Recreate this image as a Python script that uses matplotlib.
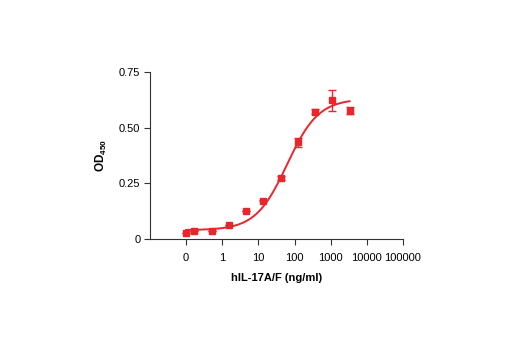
'''
Dose-response curve for hIL-17A/F (OD450 vs concentration).
'''

# Imports

import numpy as np
import matplotlib
matplotlib.use("Agg")
import matplotlib.pyplot as plt

# Constants

# concentration in ng/ml; the blank ("0") is drawn at 0.1
conc = [0.1, 0.17, 0.51, 1.52, 4.57, 13.7, 41.2, 123, 370, 1111, 3333]
od450 = [0.028, 0.035, 0.037, 0.063, 0.126, 0.172, 0.275, 0.434, 0.572, 0.624, 0.576]
od_err = [0.0, 0.0, 0.0, 0.0, 0.0, 0.002, 0.010, 0.022, 0.011, 0.047, 0.015]

# 4PL fit parameters
fit_bottom = 0.04
fit_top = 0.63
fit_ec50 = 62.0
fit_hill = 1.0

tick_pos = [0.1, 1, 10, 100, 1000, 10000, 100000]
tick_labels = ["0", "1", "10", "100", "1000", "10000", "100000"]
y_ticks = [0, 0.25, 0.5, 0.75]
y_tick_labels = ["0", "0.25", "0.50", "0.75"]

RED = "#e8262c"

# Functions

def four_pl(x):
    return fit_bottom + (fit_top - fit_bottom) / (1 + (fit_ec50 / x) ** fit_hill)


def plot_curve():
    plt.rcParams["font.family"] = ["Liberation Sans Narrow", "Liberation Sans", "DejaVu Sans"]

    fig = plt.figure(figsize=(5.2, 3.5), dpi=100)
    ax = fig.add_axes([0.2885, 0.317, 0.4865, 0.477])

    # fitted line
    xs = np.logspace(np.log10(conc[0]), np.log10(conc[-1]), 200)
    ax.plot(xs, four_pl(xs), color=RED, lw=1.4, zorder=2)

    # error bars, then the square markers on top
    ax.errorbar(conc, od450, yerr=od_err, fmt="none", ecolor=RED,
                elinewidth=1.0, capsize=2.8, capthick=1.0, zorder=3)
    ax.plot(conc, od450, "s", color=RED, ms=5, zorder=4)

    ax.set_xscale("log")
    ax.set_xlim(0.01, 100000)
    ax.set_ylim(0, 0.75)
    ax.set_xticks(tick_pos)
    ax.set_xticklabels(tick_labels)
    ax.minorticks_off()
    ax.set_yticks(y_ticks)
    ax.set_yticklabels(y_tick_labels)

    for side in ("top", "right"):
        ax.spines[side].set_visible(False)
    for side in ("left", "bottom"):
        ax.spines[side].set_color("#333333")
        ax.spines[side].set_linewidth(0.8)

    ax.tick_params(axis="x", direction="out", length=4, width=0.8,
                   color="#333333", labelsize=8, pad=6)
    ax.tick_params(axis="y", direction="out", length=4, width=0.8,
                   color="#333333", labelsize=8, pad=3)

    ax.set_xlabel("hIL-17A/F (ng/ml)", fontsize=8, fontweight="bold", labelpad=7)
    ax.set_ylabel(r"OD$_{\mathregular{450}}$", fontsize=8.5, fontweight="bold", labelpad=7)

    fig.savefig("out.png", dpi=100)


if __name__ == "__main__":
    plot_curve()
